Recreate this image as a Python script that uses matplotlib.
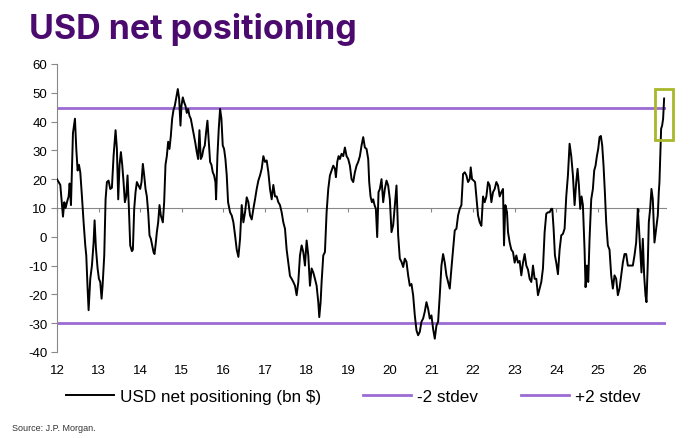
import matplotlib
matplotlib.use("Agg")
import matplotlib.pyplot as plt
from matplotlib import font_manager
from matplotlib.patches import Rectangle

# Narrow Arial-like font for the chart body, falls back if missing
try:
    font_manager.findfont("Liberation Sans Narrow", fallback_to_default=False)
    NARROW = "Liberation Sans Narrow"
except Exception:
    NARROW = "Liberation Sans"

# USD net positioning (bn $); x = year (12 = 2012)
t = [12.000, 12.040, 12.080, 12.120, 12.144, 12.176, 12.208, 12.240, 12.280, 12.304,
     12.336, 12.384, 12.432, 12.464, 12.496, 12.528, 12.560, 12.600, 12.640, 12.680,
     12.704, 12.736, 12.760, 12.800, 12.840, 12.880, 12.904, 12.936, 12.976, 13.008,
     13.040, 13.072, 13.096, 13.136, 13.168, 13.200, 13.240, 13.280, 13.320, 13.360,
     13.408, 13.440, 13.472, 13.504, 13.536, 13.568, 13.600, 13.632, 13.664, 13.696,
     13.728, 13.760, 13.800, 13.824, 13.856, 13.888, 13.920, 13.952, 14.000, 14.032,
     14.064, 14.096, 14.128, 14.160, 14.192, 14.224, 14.256, 14.288, 14.320, 14.344,
     14.376, 14.400, 14.432, 14.464, 14.496, 14.544, 14.576, 14.608, 14.640, 14.672,
     14.704, 14.736, 14.768, 14.800, 14.832, 14.864, 14.904, 14.936, 14.968, 14.992,
     15.024, 15.056, 15.088, 15.120, 15.152, 15.184, 15.216, 15.248, 15.280, 15.320,
     15.360, 15.392, 15.424, 15.456, 15.488, 15.520, 15.552, 15.584, 15.616, 15.648,
     15.680, 15.712, 15.744, 15.776, 15.808, 15.824, 15.856, 15.888, 15.920, 15.952,
     15.984, 16.016, 16.048, 16.080, 16.112, 16.160, 16.200, 16.240, 16.280, 16.320,
     16.360, 16.400, 16.440, 16.480, 16.520, 16.560, 16.600, 16.640, 16.680, 16.720,
     16.760, 16.800, 16.840, 16.880, 16.920, 16.960, 17.000, 17.040, 17.080, 17.120,
     17.160, 17.200, 17.240, 17.280, 17.320, 17.360, 17.400, 17.440, 17.480, 17.520,
     17.560, 17.600, 17.640, 17.680, 17.720, 17.760, 17.800, 17.840, 17.880, 17.920,
     17.960, 18.000, 18.040, 18.080, 18.120, 18.160, 18.200, 18.240, 18.280, 18.304,
     18.336, 18.360, 18.400, 18.440, 18.480, 18.520, 18.560, 18.600, 18.640, 18.680,
     18.704, 18.736, 18.768, 18.800, 18.840, 18.880, 18.920, 18.960, 19.000, 19.040,
     19.080, 19.120, 19.160, 19.200, 19.240, 19.280, 19.320, 19.360, 19.400, 19.440,
     19.480, 19.504, 19.536, 19.568, 19.600, 19.632, 19.664, 19.696, 19.728, 19.760,
     19.800, 19.840, 19.880, 19.920, 19.960, 20.000, 20.040, 20.080, 20.120, 20.160,
     20.200, 20.240, 20.280, 20.320, 20.360, 20.400, 20.440, 20.480, 20.520, 20.560,
     20.600, 20.640, 20.680, 20.720, 20.760, 20.800, 20.840, 20.880, 20.920, 20.960,
     21.000, 21.040, 21.080, 21.120, 21.160, 21.200, 21.240, 21.280, 21.320, 21.360,
     21.400, 21.440, 21.480, 21.520, 21.560, 21.600, 21.640, 21.680, 21.720, 21.760,
     21.800, 21.840, 21.880, 21.920, 21.944, 21.976, 22.016, 22.048, 22.080, 22.120,
     22.160, 22.200, 22.240, 22.280, 22.320, 22.360, 22.400, 22.440, 22.480, 22.520,
     22.560, 22.600, 22.640, 22.680, 22.720, 22.744, 22.776, 22.816, 22.840, 22.880,
     22.920, 22.960, 23.000, 23.040, 23.080, 23.120, 23.160, 23.200, 23.240, 23.280,
     23.320, 23.360, 23.400, 23.440, 23.480, 23.520, 23.560, 23.600, 23.640, 23.680,
     23.720, 23.760, 23.800, 23.840, 23.880, 23.904, 23.936, 23.968, 24.000, 24.040,
     24.080, 24.120, 24.160, 24.200, 24.240, 24.280, 24.320, 24.360, 24.400, 24.440,
     24.480, 24.512, 24.544, 24.576, 24.608, 24.640, 24.680, 24.704, 24.736, 24.768,
     24.800, 24.840, 24.880, 24.912, 24.944, 24.976, 25.008, 25.040, 25.072, 25.104,
     25.136, 25.168, 25.200, 25.240, 25.280, 25.320, 25.360, 25.400, 25.440, 25.480,
     25.520, 25.560, 25.600, 25.640, 25.680, 25.720, 25.760, 25.800, 25.840, 25.880,
     25.920, 25.960, 25.984, 26.016, 26.048, 26.080, 26.112, 26.144, 26.168, 26.200,
     26.224, 26.256, 26.288, 26.320, 26.360, 26.400, 26.440, 26.464, 26.480, 26.504,
     26.520, 26.544, 26.568, 26.592]

usd = [20, 19, 18, 11, 7, 12, 10, 12, 14, 18.5,
       11, 36, 41, 30.5, 23, 25, 22.4, 14, 5, -3,
       -6.5, -18, -25.5, -14.6, -10, -2, 5.7, -4, -11, -14.6,
       -15.7, -21.5, -17, -6.5, 13, 19, 19.5, 16.6, 17, 28,
       37, 30.5, 13, 25, 29.4, 25, 19, 12, 14, 21.3,
       10, -3, -5, -4.5, 9.7, 15.5, 19, 18, 16.6, 19,
       25.3, 21.3, 16.6, 14, 8.5, 0.5, -0.7, -3, -5.3, -6,
       -2, 1.6, 5, 11, 7.4, 5, 12, 25, 28, 33,
       30.5, 35, 41, 44, 45.5, 48, 51.3, 48, 38.6, 45.5,
       48.4, 46.7, 45.5, 43, 44.4, 42, 41, 38.6, 36.3, 33,
       29.4, 27, 37, 27, 28, 30.5, 31.7, 36.3, 40.3, 33,
       26, 25, 22.4, 21.3, 19, 13, 28, 37.5, 44.4, 41,
       31.7, 30.5, 27, 21.3, 12, 8.5, 7.4, 5, 0.5, -4.5,
       -7, -0.7, 11, 5, 8.5, 13.7, 12, 7.4, 6, 9.7,
       13, 16.6, 19.5, 21.3, 23.6, 28, 26, 26.5, 22.4, 16.6,
       13, 18, 14, 14, 12, 11, 8.5, 5, 2.8, -4.5,
       -9, -13.6, -14.6, -15.7, -17, -20.3, -15.7, -6.5, -3, -5.3,
       -10, -1.3, -6.5, -17, -11, -12.4, -14.6, -17, -22.7, -27.9,
       -22.7, -15.7, -6.5, -5.3, 8.5, 16.6, 21.3, 23, 24.7, 23.6,
       20.7, 26, 28, 27, 28.8, 28, 31, 28, 27, 24.7,
       20, 19, 22.4, 24.7, 26, 28, 31.7, 34.6, 31, 30.5,
       27, 19, 14, 12, 13, 11, 9.7, -0.1, 15.5, 16.6,
       20, 12, 16.6, 19.5, 17.8, 13, 1.6, 4, 11, 17.8,
       0.5, -7.6, -8.7, -10.5, -7.6, -8.7, -13.4, -17, -16.4, -20.3,
       -27.3, -32.5, -34.2, -33, -29.5, -28.4, -26, -22.7, -25, -28.4,
       -27.3, -32, -35.4, -30.8, -29.5, -20.3, -10, -6, -9, -13.4,
       -15.7, -18, -11, -4.5, 2.2, 2.8, 7.4, 9.7, 11, 21.8,
       22.4, 21.3, 19, 20, 24.1, 20, 19.5, 19, 14, 7.4,
       5, 3.8, 14, 12, 14, 19, 17.8, 12, 15.5, 16.6,
       19, 17.8, 14, 15.5, 16.6, -3, 11, 8.5, 1.6, -2,
       -4.5, -5.3, -9, -6.5, -9, -8.4, -13.4, -9, -6, -10,
       -11.4, -14.6, -15.7, -10, -14.6, -14.6, -20.3, -18, -15.7, -11,
       1.6, 8, 8.5, 8.5, 9.7, 9.7, 2.8, -6.5, -9, -13,
       -4.5, 0.5, 1, 2.8, 14, 21.3, 32.3, 28, 21.3, 11,
       19, 23.6, 17.8, 9.7, 14, 11, -4.5, -17.5, -10, -15.7,
       -0.7, 13, 16.6, 23, 24.7, 28, 30.5, 34.6, 35, 31.7,
       24.7, 15.5, 5, -3, -4.5, -13.4, -18, -13.4, -14.6, -20.3,
       -18, -13.4, -9, -6, -6, -10, -10, -10, -10, -6.5,
       -2, 9.7, 4, -4.5, -12.4, -0.7, -13.4, -20.3, -22.7, -9,
       5, 9.7, 16.6, 13, -2, 2.8, 7.4, 15.5, 19, 30.5,
       37.5, 38.6, 41, 48]

minus_2sd = -29.8
plus_2sd = 44.8
axis_cross = 10
years = list(range(12, 27))
yticks = list(range(-40, 61, 10))
# highlight box round the latest readings (x in years, y in bn $)
box_x = (26.375, 26.81)
box_y = (33.7, 51.4)

PURPLE = "#9b6bd3"
TITLE = "#4b0b6e"

fig = plt.figure(figsize=(7, 4.39), dpi=100)
ax = fig.add_axes([0.0814, 0.196, 0.8696, 0.656])

l2 = ax.axhline(minus_2sd, color=PURPLE, lw=2, label="-2 stdev", zorder=2)
l3 = ax.axhline(plus_2sd, color=PURPLE, lw=2, label="+2 stdev", zorder=2)
l1, = ax.plot(t, usd, color="black", lw=1.4, label="USD net positioning (bn $)", zorder=3)

ax.add_patch(Rectangle((box_x[0], box_y[0]), box_x[1] - box_x[0], box_y[1] - box_y[0],
                       fill=False, edgecolor="#a8b82a", lw=2, clip_on=False, zorder=5))

ax.set_xlim(12, 26.63)
ax.set_ylim(-40, 60)
ax.set_yticks(yticks)
ax.set_yticklabels([str(v) for v in yticks], fontfamily=NARROW, fontsize=9.5)

for s in ["top", "right"]:
    ax.spines[s].set_visible(False)
ax.spines["left"].set_color("#888888")
ax.spines["left"].set_linewidth(0.8)
ax.spines["bottom"].set_position(("data", axis_cross))
ax.spines["bottom"].set_color("#888888")
ax.spines["bottom"].set_linewidth(0.8)
ax.set_xticks(years)
ax.tick_params(axis="x", direction="out", length=3, color="#888888", labelbottom=False)
ax.tick_params(axis="y", direction="out", length=4, color="#888888", pad=3)

# year labels sit at the bottom edge, not on the crossing axis
sec = ax.secondary_xaxis("bottom")
sec.set_xticks(years)
sec.set_xticklabels([str(y) for y in years], fontfamily=NARROW, fontsize=9.5)
sec.spines["bottom"].set_visible(False)
sec.tick_params(length=0, pad=9)

fig.legend(handles=[l1, l2, l3], loc="center left", bbox_to_anchor=(0.072, 0.095),
           ncol=3, frameon=False, prop={"family": NARROW, "size": 12.3},
           handlelength=2.8, handletextpad=0.35, columnspacing=2.5)

fig.text(0.041, 0.932, "USD net positioning", fontfamily="Inter", fontweight="bold",
         fontsize=24.5, color=TITLE, va="center", ha="left")
fig.text(0.017, 0.025, "Source: J.P. Morgan.", fontfamily=NARROW, fontsize=6.5,
         color="#333333", va="center")

fig.savefig("out.png", dpi=100)
